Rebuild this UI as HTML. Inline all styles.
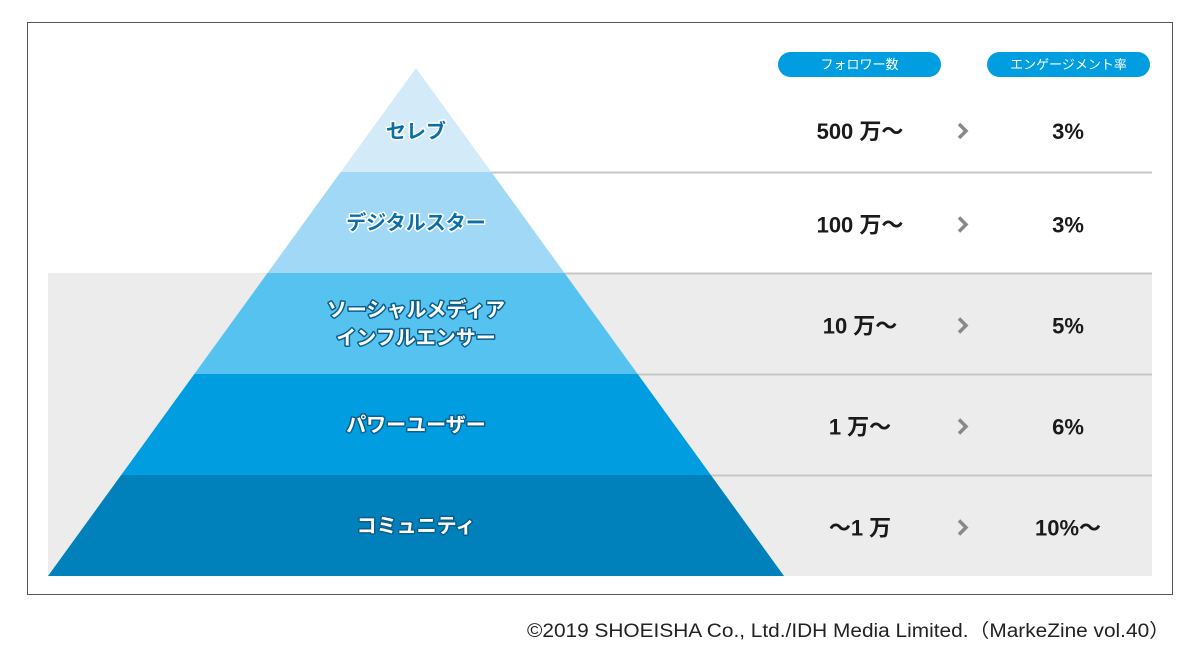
<!DOCTYPE html>
<html><head><meta charset="utf-8"><style>
body{margin:0;background:#fff;}
svg{display:block;font-family:"Liberation Sans","Noto Sans CJK JP",sans-serif;}
</style></head><body>
<svg id="c" width="1200" height="661" viewBox="0 0 1200 661">
<rect x="27.5" y="22.5" width="1145" height="572" fill="#fff" stroke="#555" stroke-width="1"/>
<rect x="48" y="273" width="1104" height="303" fill="#ececec"/>
<g id="g"></g>
<rect x="778" y="52" width="163" height="25" rx="12.5" fill="#009de0"/>
<text x="859.5" y="69" text-anchor="middle" font-size="13" fill="#fff">フォロワー数</text>
<rect x="987" y="52" width="163" height="25" rx="12.5" fill="#009de0"/>
<text x="1068.5" y="69" text-anchor="middle" font-size="13" fill="#fff">エンゲージメント率</text>
<text x="1170" y="637" text-anchor="end" font-size="19" textLength="643" lengthAdjust="spacingAndGlyphs" fill="#222">©2019 SHOEISHA Co., Ltd./IDH Media Limited.（MarkeZine vol.40）</text>
</svg>
<script>
const tiers=[["セレブ"],["デジタルスター"],["ソーシャルメディア","インフルエンサー"],["パワーユーザー"],["コミュニティ"]];
const followers=["500 万〜","100 万〜","10 万〜","1 万〜","〜1 万"];
const engagement=["3%","3%","5%","6%","10%〜"];
const colors=["#d3ebf9","#a1d8f5","#55c2f0","#009de0","#0081bb"];
const NS="http://www.w3.org/2000/svg";
const g=document.getElementById("g");
const apexX=416,apexY=68,baseY=576,baseL=48,bandTop=172,bandH=101,n=tiers.length;
function halfW(y){return (y-apexY)/(baseY-apexY)*(apexX-baseL);}
function mk(t,a){const e=document.createElementNS(NS,t);for(const k in a)e.setAttribute(k,a[k]);g.appendChild(e);return e;}
for(let i=0;i<n;i++){
  const y0=i===0?apexY:bandTop+(i-1)*bandH, y1=bandTop+i*bandH;
  const w0=halfW(y0),w1=halfW(y1);
  const p=mk("polygon",{points:`${apexX-w0},${y0} ${apexX+w0},${y0} ${apexX+w1},${y1} ${apexX-w1},${y1}`,fill:colors[i]});
  
  
  if(i<n-1){
    const l=mk("line",{x1:apexX+w1,y1:y1+0.5,x2:1152,y2:y1+0.5,stroke:"#c6c6c6","stroke-width":2});
    
    
  }
  const cy=i===0?138:(y0+y1)/2+7;
  const lines=tiers[i];
  const dark=i<2;
  lines.forEach((s,j)=>{
    const ty=cy+(j-(lines.length-1)/2)*28;
    const t=mk("text",{x:apexX,y:ty,"text-anchor":"middle","font-size":20,"font-weight":"bold",
      fill:dark?"#0a6fa8":"#fff",stroke:dark?"#fff":"#0a5f8c","stroke-width":3,"paint-order":"stroke","stroke-linejoin":"round"});
    t.textContent=s;
    
    
  });
  const ry=(i===0?139:(y0+y1)/2+10);
  const f=mk("text",{x:860,y:ry,"text-anchor":"middle","font-size":22,"font-weight":"bold",fill:"#1a1a1a"});
  f.textContent=followers[i];
  
  
  const c=mk("polyline",{points:`${959},${ry-15} ${966},${ry-8} ${959},${ry-1}`,fill:"none",stroke:"#888","stroke-width":3.5});
  
  
  const e=mk("text",{x:1068,y:ry,"text-anchor":"middle","font-size":22,"font-weight":"bold",fill:"#1a1a1a"});
  e.textContent=engagement[i];
  
  
}
</script>
</body></html>
